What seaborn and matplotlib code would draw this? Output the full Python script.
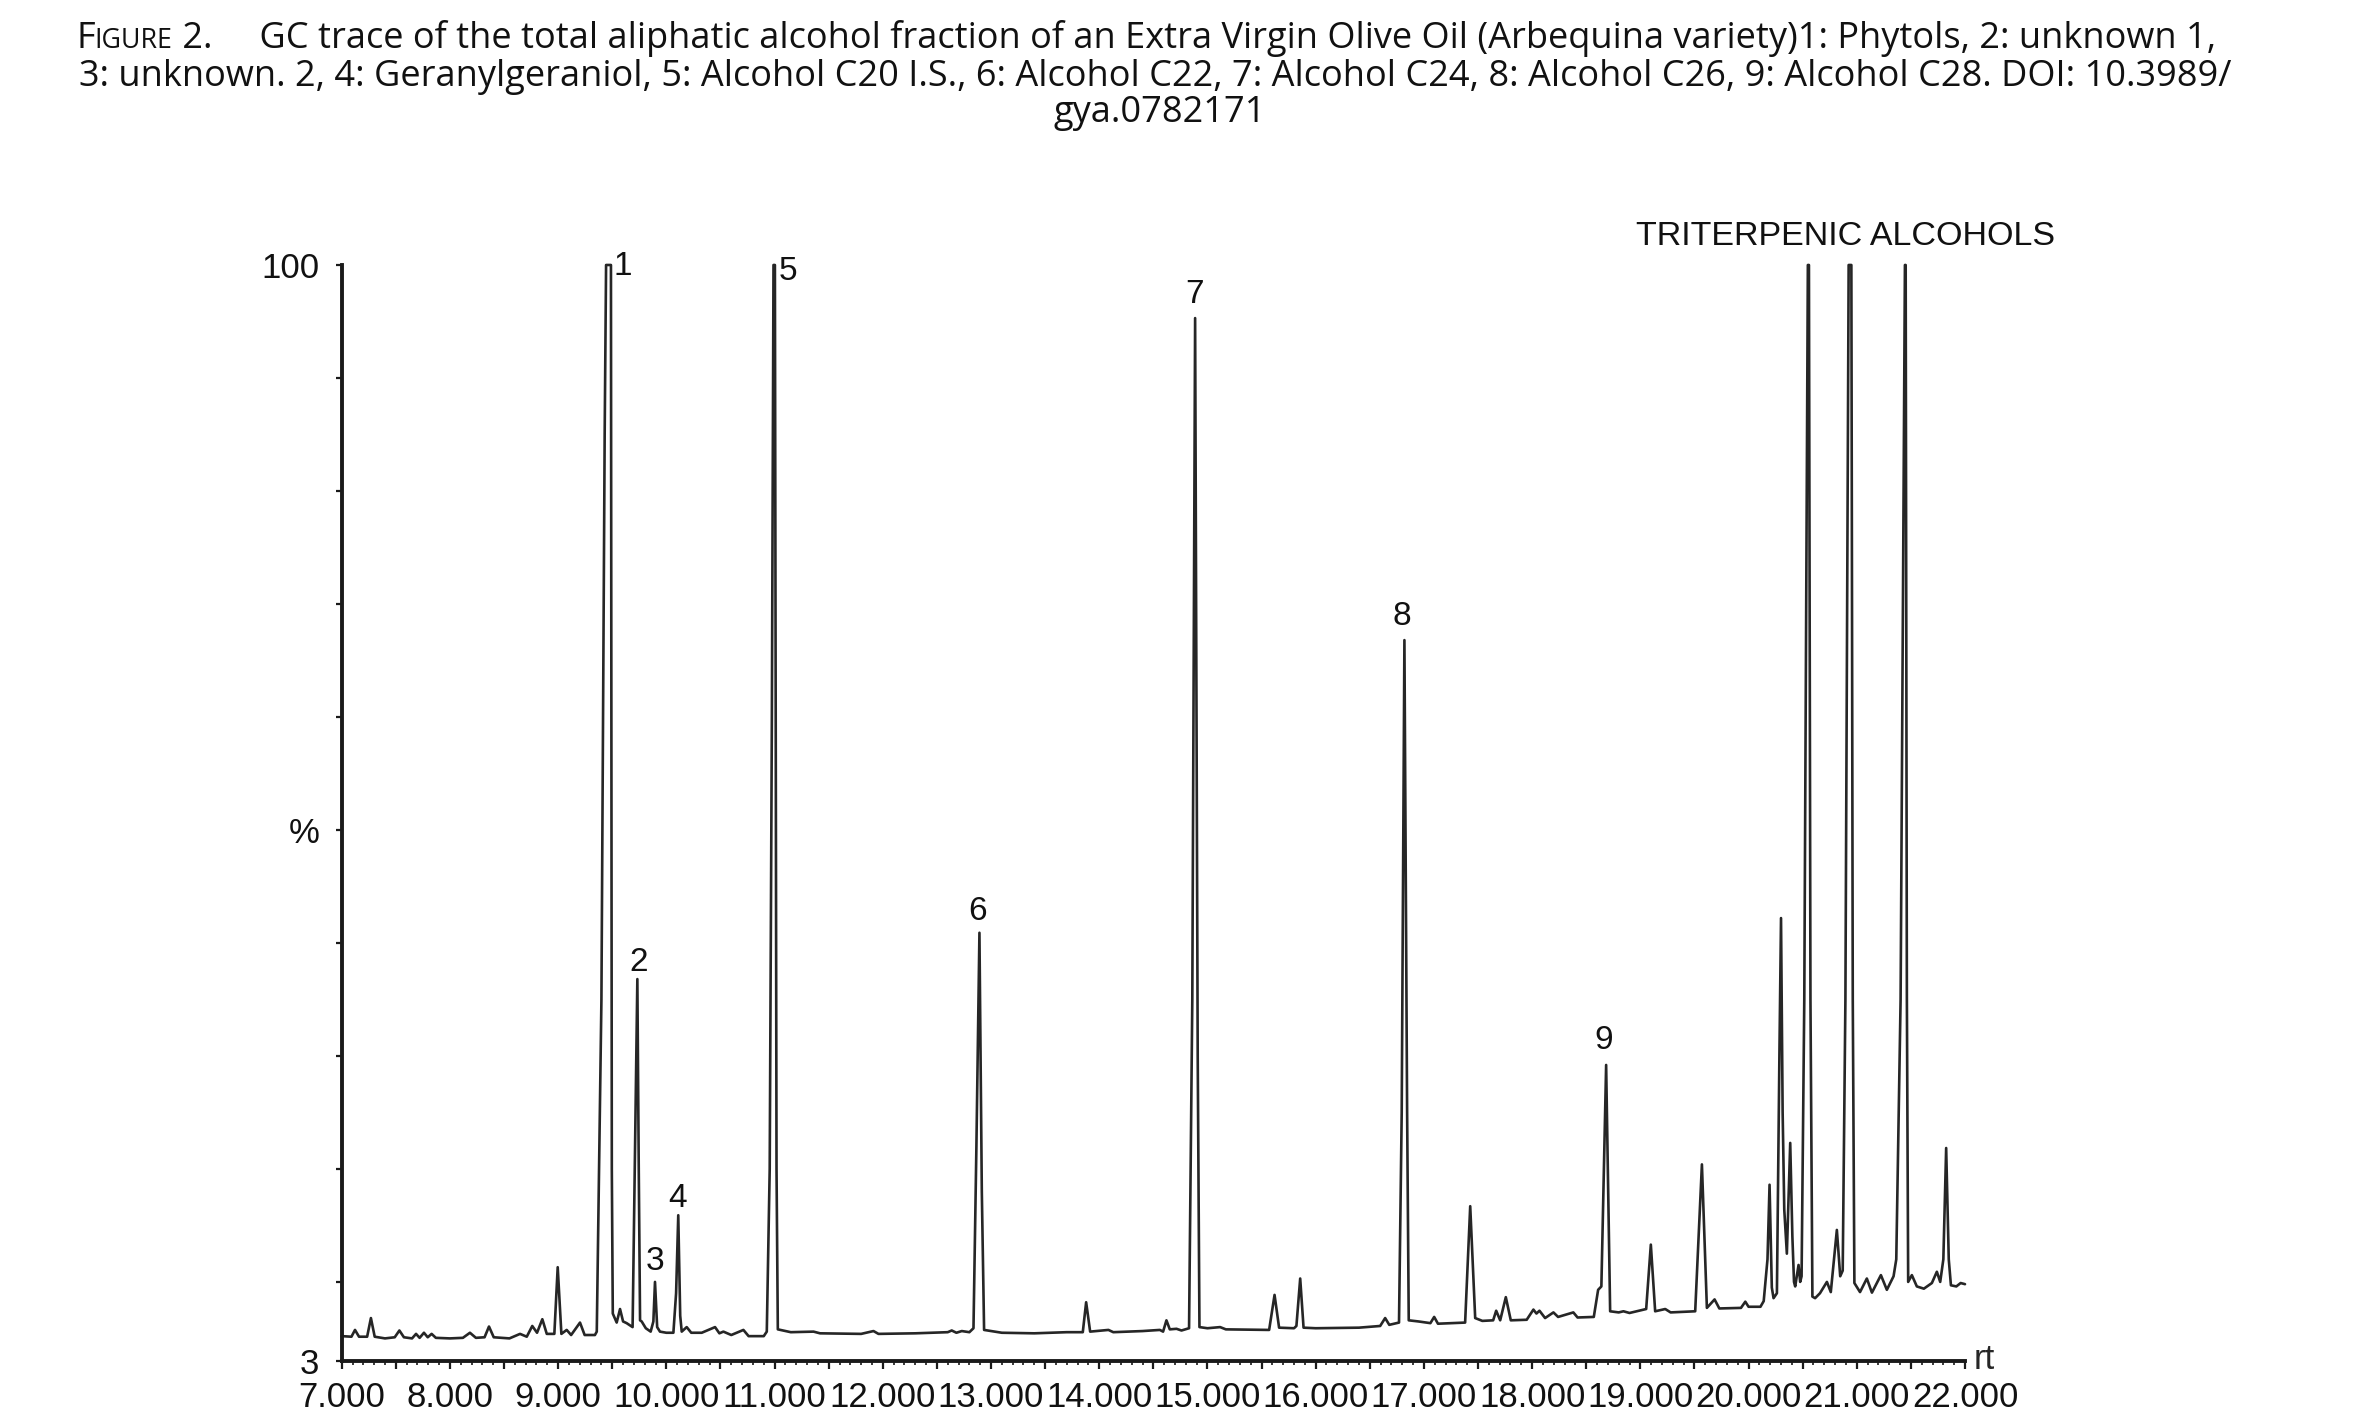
import numpy as np
import pandas as pd
import matplotlib
matplotlib.use("Agg")
import matplotlib.pyplot as plt
import seaborn as sns
from matplotlib.ticker import FixedLocator, MultipleLocator
from matplotlib.offsetbox import TextArea, HPacker, AnchoredOffsetbox
from matplotlib import font_manager
from matplotlib.font_manager import FontProperties

# ---------------- data ----------------
rt = [
    7.000, 7.090, 7.123, 7.160, 7.235, 7.270, 7.305, 7.400, 7.490, 7.533,
    7.575, 7.650, 7.687, 7.720, 7.760, 7.795, 7.831, 7.870, 8.000, 8.120,
    8.185, 8.240, 8.320, 8.361, 8.405, 8.550, 8.648, 8.710, 8.761, 8.805,
    8.854, 8.895, 8.965, 8.996, 9.030, 9.079, 9.120, 9.202, 9.245, 9.340,
    9.357, 9.400, 9.430, 9.443, 9.488, 9.496, 9.505, 9.541, 9.572, 9.600,
    9.633, 9.688, 9.715, 9.732, 9.745, 9.757, 9.772, 9.810, 9.855, 9.880,
    9.895, 9.915, 9.941, 10.000, 10.065, 10.090, 10.110, 10.128, 10.142, 10.188,
    10.230, 10.327, 10.450, 10.490, 10.527, 10.600, 10.712, 10.760, 10.900, 10.928,
    10.955, 10.975, 10.990, 11.003, 11.018, 11.030, 11.150, 11.360, 11.420, 11.800,
    11.914, 11.960, 12.300, 12.600, 12.637, 12.680, 12.730, 12.800, 12.838, 12.865,
    12.893, 12.915, 12.936, 13.100, 13.400, 13.700, 13.848, 13.879, 13.916, 14.085,
    14.130, 14.400, 14.560, 14.590, 14.621, 14.652, 14.714, 14.760, 14.830, 14.860,
    14.886, 14.910, 14.926, 15.000, 15.117, 15.170, 15.570, 15.620, 15.662, 15.800,
    15.822, 15.857, 15.888, 16.000, 16.400, 16.596, 16.642, 16.680, 16.770, 16.795,
    16.820, 16.845, 16.860, 16.950, 17.060, 17.095, 17.130, 17.381, 17.428, 17.474,
    17.540, 17.640, 17.668, 17.705, 17.757, 17.803, 17.950, 18.012, 18.040, 18.068,
    18.120, 18.197, 18.240, 18.381, 18.420, 18.570, 18.610, 18.640, 18.684, 18.721,
    18.800, 18.844, 18.900, 19.054, 19.097, 19.137, 19.230, 19.280, 19.507, 19.569,
    19.615, 19.686, 19.730, 19.930, 19.970, 20.000, 20.110, 20.140, 20.175, 20.194,
    20.215, 20.231, 20.262, 20.285, 20.300, 20.315, 20.330, 20.354, 20.385, 20.405,
    20.420, 20.431, 20.462, 20.477, 20.490, 20.515, 20.548, 20.558, 20.572, 20.590,
    20.615, 20.660, 20.724, 20.760, 20.816, 20.847, 20.870, 20.895, 20.925, 20.950,
    20.963, 20.978, 21.030, 21.093, 21.140, 21.223, 21.278, 21.340, 21.365, 21.405,
    21.445, 21.452, 21.463, 21.475, 21.509, 21.555, 21.620, 21.694, 21.740, 21.771,
    21.800, 21.826, 21.850, 21.870, 21.920, 21.960, 22.000,
]
pct = [
    5.20, 5.15, 5.75, 5.15, 5.15, 6.80, 5.15, 5.00, 5.10, 5.70,
    5.10, 5.00, 5.40, 5.05, 5.50, 5.10, 5.40, 5.05, 5.00, 5.05,
    5.50, 5.05, 5.10, 6.05, 5.10, 5.00, 5.40, 5.15, 6.10, 5.50,
    6.70, 5.40, 5.40, 11.30, 5.40, 5.75, 5.30, 6.40, 5.30, 5.30,
    5.60, 35.0, 85.0, 100.0, 100.0, 20.0, 7.20, 6.40, 7.60, 6.50,
    6.35, 6.00, 25.0, 36.8, 20.0, 6.60, 6.50, 5.90, 5.60, 6.50,
    10.0, 6.00, 5.60, 5.50, 5.50, 9.00, 15.9, 7.00, 5.60, 6.00,
    5.50, 5.50, 6.00, 5.45, 5.60, 5.30, 5.75, 5.20, 5.20, 5.60,
    20.0, 60.0, 100.0, 100.0, 20.0, 5.80, 5.55, 5.60, 5.45, 5.40,
    5.65, 5.40, 5.45, 5.55, 5.70, 5.50, 5.65, 5.55, 5.90, 22.0,
    40.9, 18.0, 5.75, 5.50, 5.45, 5.55, 5.55, 8.20, 5.60, 5.75,
    5.55, 5.65, 5.75, 5.60, 6.60, 5.80, 5.85, 5.70, 5.90, 35.0,
    95.3, 30.0, 6.00, 5.90, 6.00, 5.80, 5.75, 8.85, 5.95, 5.90,
    6.10, 10.3, 5.95, 5.90, 5.95, 6.10, 6.80, 6.20, 6.40, 25.0,
    66.8, 25.0, 6.60, 6.50, 6.35, 6.90, 6.30, 6.40, 16.7, 6.80,
    6.55, 6.60, 7.45, 6.60, 8.65, 6.60, 6.65, 7.55, 7.20, 7.45,
    6.80, 7.30, 6.90, 7.30, 6.85, 6.90, 9.30, 9.60, 29.2, 7.40,
    7.30, 7.40, 7.25, 7.60, 13.3, 7.40, 7.60, 7.30, 7.40, 20.4,
    7.70, 8.45, 7.65, 7.70, 8.25, 7.80, 7.80, 8.30, 12.0, 18.6,
    9.50, 8.56, 9.00, 30.0, 42.2, 25.0, 16.4, 12.5, 22.3, 14.0,
    10.0, 9.60, 11.5, 10.0, 10.5, 35.0, 100.0, 100.0, 35.0, 8.70,
    8.56, 9.00, 10.0, 9.10, 14.6, 10.5, 11.0, 35.0, 100.0, 100.0,
    35.0, 9.90, 9.10, 10.3, 9.05, 10.6, 9.30, 10.5, 12.0, 35.0,
    100.0, 100.0, 35.0, 10.0, 10.6, 9.60, 9.40, 9.90, 10.9, 10.0,
    12.0, 21.85, 12.0, 9.70, 9.60, 9.90, 9.80,
]

x_tick_values = [7.0, 7.5, 8.0, 8.5, 9.0, 9.5, 10.0, 10.5, 11.0, 11.5, 12.0, 12.5,
                 13.0, 13.5, 14.0, 14.5, 15.0, 15.5, 16.0, 16.5, 17.0, 17.5, 18.0,
                 18.5, 19.0, 19.5, 20.0, 20.5, 21.0, 21.5, 22.0]
x_tick_labels = ["7.000", "", "8.000", "", "9.000", "", "10.000", "", "11.000", "",
                 "12.000", "", "13.000", "", "14.000", "", "15.000", "", "16.000", "",
                 "17.000", "", "18.000", "", "19.000", "", "20.000", "", "21.000", "",
                 "22.000"]
y_tick_values = [3, 10, 20, 30, 40, 50, 60, 70, 80, 90, 100]
y_tick_labels = ["3", "", "", "", "", "%", "", "", "", "", "100"]

peak_names = ["1", "2", "3", "4", "5", "6", "7", "8", "9"]
peak_name_rt = [9.60, 9.745, 9.896, 10.105, 11.12, 12.88, 14.88, 16.80, 18.66]
peak_name_pct = [99.9, 38.3, 11.8, 17.4, 99.4, 42.8, 97.4, 68.9, 31.4]

title_head = ("F", "IGURE")
title_line1 = " 2.     GC trace of the total aliphatic alcohol fraction of an Extra Virgin Olive Oil (Arbequina variety)1: Phytols, 2: unknown 1,"
title_line2 = "3: unknown. 2, 4: Geranylgeraniol, 5: Alcohol C20 I.S., 6: Alcohol C22, 7: Alcohol C24, 8: Alcohol C26, 9: Alcohol C28. DOI: 10.3989/"
title_line3 = "gya.0782171"

# ---------------- style ----------------
sns.set_theme(style="ticks")
names = {f.name for f in font_manager.fontManager.ttflist}
title_font = "Open Sans" if "Open Sans" in names else "DejaVu Sans"
plt.rcParams["font.family"] = ["Liberation Sans", "DejaVu Sans"]

narrow_file = None
for f in font_manager.findSystemFonts():
    base = f.split("/")[-1]
    if base.startswith("LiberationSansNarrow-Regular"):
        narrow_file = f
        break
if narrow_file is not None:
    tick_fp = FontProperties(fname=narrow_file, size=28)
else:
    tick_fp = FontProperties(family="Liberation Sans", size=25)

df = pd.DataFrame({"rt": rt, "pct": pct})

fig = plt.figure(figsize=(23.58, 14.17), dpi=100)
fig.patch.set_facecolor("white")
ax = fig.add_axes([0.14491, 0.03952, 0.68842, 0.77348])
ax.set_facecolor("white")

sns.lineplot(data=df, x="rt", y="pct", sort=False, estimator=None,
             color="#262626", linewidth=1.9, ax=ax, clip_on=False)

ax.set_xlim(7.0, 22.0)
ax.set_ylim(3, 100)
ax.set_xlabel("")
ax.set_ylabel("")
for s in ["top", "right"]:
    ax.spines[s].set_visible(False)
for s in ["left", "bottom"]:
    ax.spines[s].set_linewidth(2.8)
    ax.spines[s].set_color("#1a1a1a")

ax.xaxis.set_major_locator(FixedLocator(x_tick_values))
ax.set_xticklabels(x_tick_labels)
ax.xaxis.set_minor_locator(MultipleLocator(0.1))
ax.tick_params(axis="x", which="major", length=5.5, width=1.6, pad=9,
               direction="out", colors="#1a1a1a")
ax.tick_params(axis="x", which="minor", length=3, width=1.2, direction="out",
               colors="#1a1a1a")

ax.set_yticks(y_tick_values)
ax.set_yticklabels(y_tick_labels)
ax.tick_params(axis="y", which="major", length=4, width=1.6, pad=12,
               direction="out", colors="#1a1a1a")
for lbl in ax.get_xticklabels() + ax.get_yticklabels():
    lbl.set_fontproperties(tick_fp)
    lbl.set_color("#111111")

ax.annotate("rt", xy=(22.0, 3), xycoords="data", xytext=(6, 1),
            textcoords="offset points", ha="left", va="center",
            fontproperties=tick_fp, annotation_clip=False)

for name, x, y in zip(peak_names, peak_name_rt, peak_name_pct):
    ax.text(x, y, name, ha="center", va="center", fontsize=24,
            family="Liberation Sans", color="#111111", clip_on=False)

ax.text(20.90, 102.5, "TRITERPENIC ALCOHOLS", ha="center", va="center",
        fontsize=24.5, family="Liberation Sans", color="#111111", clip_on=False)

# ---------------- title with small caps ----------------
tsize = 26
tp = dict(fontsize=tsize, family=title_font, color="#111111")
sp = dict(fontsize=tsize * 0.74, family=title_font, color="#111111")
box = HPacker(children=[TextArea(title_head[0], textprops=tp),
                        TextArea(title_head[1], textprops=sp),
                        TextArea(title_line1, textprops=tp)],
              align="baseline", pad=0, sep=0)
anch = AnchoredOffsetbox(loc="center", child=box, pad=0, frameon=False,
                         bbox_to_anchor=(0.486, 0.973),
                         bbox_transform=fig.transFigure, borderpad=0)
fig.add_artist(anch)
fig.text(0.490, 0.946, title_line2, ha="center", va="center", **tp)
fig.text(0.492, 0.920, title_line3, ha="center", va="center", **tp)

fig.savefig("out.png", dpi=100, facecolor="white")
